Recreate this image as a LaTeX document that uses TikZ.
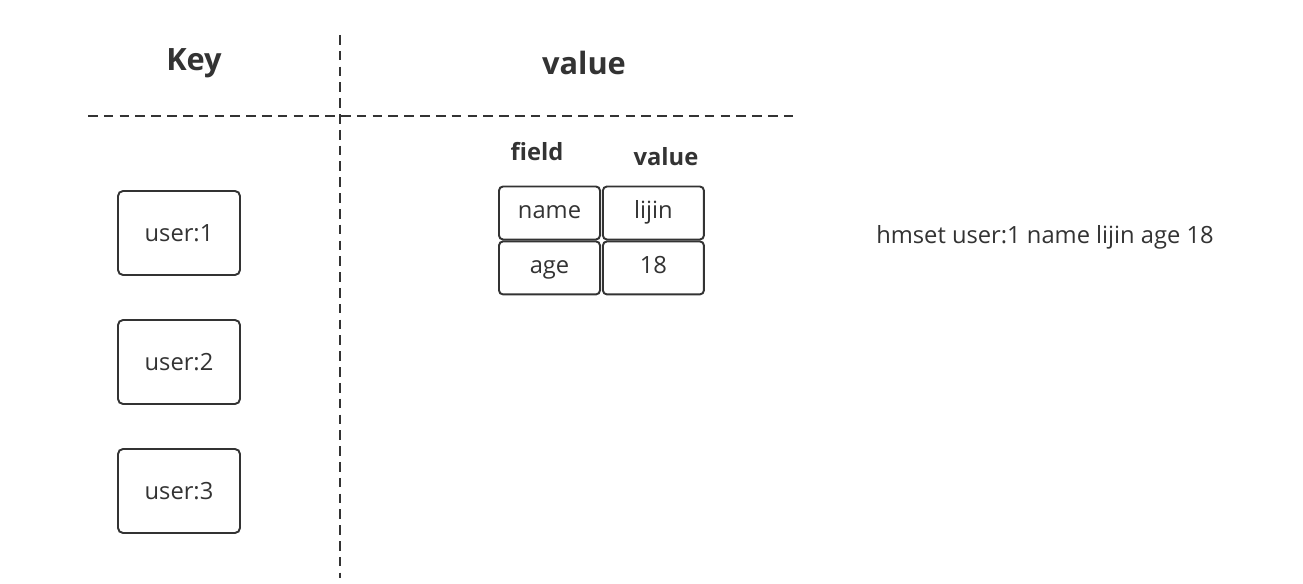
\documentclass[tikz,border=0pt]{standalone}
\usepackage{fontspec}
\setmainfont{Open Sans}
\usetikzlibrary{positioning}
\definecolor{ink}{HTML}{333333}

\begin{document}
\begin{tikzpicture}[x=0.02cm,y=-0.02cm,line width=1.1pt]
    % `keybox' is used for the keys, `cell' for the hash table.
    % `head' is used for the bold titles.
    \tikzstyle{keybox} = [draw=ink,rounded corners=1mm,minimum width=2.44cm,minimum height=1.68cm,text=ink,font=\fontsize{13.5}{16}\selectfont]
    \tikzstyle{cell} = [draw=ink,rounded corners=0.8mm,minimum width=2.02cm,minimum height=1.06cm,inner sep=0pt,text height=1.6ex,text depth=0.35ex,text=ink,font=\fontsize{13.5}{16}\selectfont]
    \tikzstyle{head} = [text=ink,font=\fontsize{17.5}{20}\selectfont\bfseries]
    \tikzstyle{sub} = [text=ink,font=\fontsize{13.5}{16}\selectfont\bfseries]
    \tikzstyle{split} = [draw=ink,line width=1.2pt,dash pattern=on 5.5pt off 3.5pt]
    %
    \useasboundingbox (0,0) rectangle (1303,584);
    % Titles.
    \node[head] (key) at (194,63) {Key};
    \node[head] (value) at (584,63) {value};
    % Keys.
    \node[keybox] (u1) at (179,233) {user:1};
    \node[keybox] (u2) at (179,362) {user:2};
    \node[keybox] (u3) at (179,491) {user:3};
    % Hash table.
    \node[cell] (name) at (549.5,213) {name};
    \node[cell,right=0.02cm of name] (lijin) {lijin};
    \node[cell,below=0cm of name] (age) {age};
    \node[cell,below=0cm of lijin] (n18) {18};
    \node[sub] (field) at (537,152) {field};
    \node[sub] (fvalue) at (666,157) {value};
    % Command.
    \node[text=ink,font=\fontsize{13.5}{16}\selectfont] (cmd) at (1045,237) {hmset user:1 name lijin age 18};
    % Dashed separators.
    \coordinate (top) at (340,35);
    \coordinate (bottom) at (340,578);
    \coordinate (left) at (88,116);
    \coordinate (right) at (793,116);
    \draw[split] (top) -- (bottom);
    \draw[split] (left) -- (right);
\end{tikzpicture}
\end{document}
